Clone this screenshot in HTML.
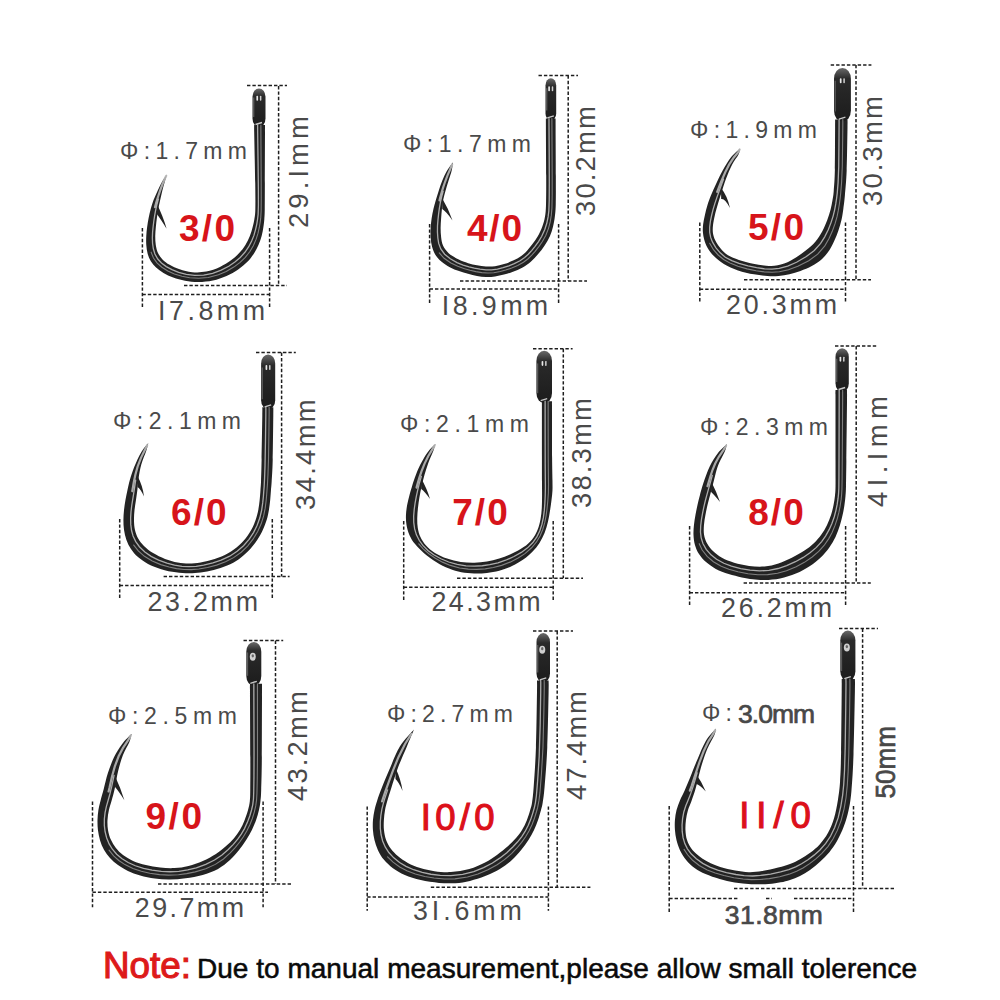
<!DOCTYPE html>
<html><head><meta charset="utf-8"><style>
html,body{margin:0;padding:0;background:#fff;}
body{width:1000px;height:1000px;overflow:hidden;}
svg{display:block;}
text{font-family:"Liberation Sans",sans-serif;}
</style></head><body>
<svg width="1000" height="1000" viewBox="0 0 1000 1000">
<rect width="1000" height="1000" fill="#ffffff"/>
<g stroke="#1e1e1e" stroke-width="1.5" stroke-dasharray="3.4 2"><line x1="247" y1="85.6" x2="287" y2="85.6"/><line x1="278.6" y1="86" x2="278.6" y2="285.6"/><line x1="184" y1="285.6" x2="287" y2="285.6"/><line x1="142.4" y1="228" x2="142.4" y2="309"/><line x1="269.6" y1="228" x2="269.6" y2="309"/><line x1="142.4" y1="294.4" x2="269.6" y2="294.4"/><line x1="538.5" y1="75.4" x2="578" y2="75.4"/><line x1="568.2" y1="75.4" x2="568.2" y2="281"/><line x1="460" y1="281" x2="587" y2="281"/><line x1="429.6" y1="224" x2="429.6" y2="304"/><line x1="558.6" y1="224" x2="558.6" y2="304"/><line x1="429.6" y1="289" x2="558.6" y2="289"/><line x1="830.7" y1="64.9" x2="871.4" y2="64.9"/><line x1="856" y1="64.9" x2="856" y2="279.7"/><line x1="744" y1="279.7" x2="871" y2="279.7"/><line x1="699.8" y1="222.5" x2="699.8" y2="302.8"/><line x1="845.5" y1="222.5" x2="845.5" y2="302.8"/><line x1="699.8" y1="289.2" x2="845.5" y2="289.2"/><line x1="256" y1="352.6" x2="295.8" y2="352.6"/><line x1="281.6" y1="352.6" x2="281.6" y2="576.4"/><line x1="163.6" y1="576.4" x2="289.6" y2="576.4"/><line x1="119.7" y1="519" x2="119.7" y2="599"/><line x1="272.3" y1="519" x2="272.3" y2="599"/><line x1="119.7" y1="585.5" x2="272.3" y2="585.5"/><line x1="533" y1="348.8" x2="572.6" y2="348.8"/><line x1="563.3" y1="348.8" x2="563.3" y2="578.3"/><line x1="457" y1="578.3" x2="583" y2="578.3"/><line x1="403.7" y1="521" x2="403.7" y2="601.6"/><line x1="553.2" y1="521" x2="553.2" y2="601.6"/><line x1="403.7" y1="587.2" x2="553.2" y2="587.2"/><line x1="835" y1="346" x2="878" y2="346"/><line x1="856.2" y1="346" x2="856.2" y2="583"/><line x1="743.6" y1="583" x2="870.8" y2="583"/><line x1="689.6" y1="526" x2="689.6" y2="606.4"/><line x1="845.6" y1="526" x2="845.6" y2="606.4"/><line x1="689.6" y1="592.7" x2="845.6" y2="592.7"/><line x1="243.5" y1="640.5" x2="283.2" y2="640.5"/><line x1="275.5" y1="640.5" x2="275.5" y2="884"/><line x1="158" y1="884" x2="292.4" y2="884"/><line x1="92.5" y1="801.6" x2="92.5" y2="907.2"/><line x1="263.1" y1="801.6" x2="263.1" y2="907.2"/><line x1="92.5" y1="892.3" x2="268" y2="892.3"/><line x1="533" y1="631" x2="573" y2="631"/><line x1="557.2" y1="631" x2="557.2" y2="887.3"/><line x1="430.8" y1="887.3" x2="590.4" y2="887.3"/><line x1="367.2" y1="806.4" x2="367.2" y2="910.8"/><line x1="548.4" y1="806.4" x2="548.4" y2="910.8"/><line x1="367.2" y1="896.9" x2="548.4" y2="896.9"/><line x1="839" y1="628.5" x2="878" y2="628.5"/><line x1="862.6" y1="628.5" x2="862.6" y2="888.6"/><line x1="734" y1="888.6" x2="896" y2="888.6"/><line x1="669.2" y1="806" x2="669.2" y2="912.8"/><line x1="853.5" y1="806" x2="853.5" y2="912.8"/><line x1="669.2" y1="898.4" x2="738" y2="898.4"/><line x1="766" y1="898.4" x2="772" y2="898.4"/><line x1="794" y1="898.4" x2="853.5" y2="898.4"/></g>
<defs><linearGradient id="eyeg" x1="0" y1="0" x2="0" y2="1"><stop offset="0" stop-color="#6a6a6a"/><stop offset="0.2" stop-color="#2a2a2a"/><stop offset="1" stop-color="#1c1c1c"/></linearGradient></defs>
<g fill="#232323">
<path d="M265,125 C265,126.25 265.02,122.89 265,132.5 C264.98,142.11 264.9,169.87 264.86,182.65 C264.82,195.42 264.84,203.07 264.75,209.13 C264.67,215.18 264.57,216.01 264.35,218.99 C264.12,221.97 263.86,224.17 263.41,227 C262.95,229.83 262.46,232.99 261.63,236 C260.81,239.01 259.78,242.07 258.45,245.06 C257.12,248.05 255.54,251.12 253.65,253.95 C251.77,256.79 249.73,259.5 247.15,262.09 C244.57,264.67 241.62,267.13 238.18,269.45 C234.75,271.76 230.74,274.13 226.53,275.97 C222.33,277.81 217.6,279.48 212.94,280.49 C208.27,281.49 203.22,281.95 198.56,281.98 C193.91,282.01 189.25,281.43 185.03,280.67 C180.8,279.91 176.8,278.71 173.21,277.43 C169.62,276.14 166.33,274.59 163.48,272.94 C160.62,271.29 158.19,269.46 156.08,267.51 C153.97,265.57 152.24,263.55 150.84,261.27 C149.43,259 148.41,256.54 147.65,253.85 C146.9,251.16 146.52,248.09 146.29,245.12 C146.06,242.14 146.14,239.02 146.28,236 C146.42,232.98 146.75,230 147.15,227 C147.54,224 148.03,221 148.63,218 C149.22,215 149.9,211.99 150.72,209 C151.54,206.01 152.42,203.09 153.55,200.07 C154.69,197.05 156.04,194.06 157.53,190.88 C159.02,187.7 160.94,183.75 162.5,181 C164.06,178.25 166.17,175.5 166.9,174.4 C166.58,175.5 165.78,178.25 165,181 C164.22,183.75 163.05,187.7 162.24,190.88 C161.44,194.06 160.84,197.05 160.18,200.07 C159.52,203.09 158.83,206.01 158.28,209 C157.73,211.99 157.3,215 156.89,218 C156.49,221 156.13,223.99 155.85,227 C155.58,230.01 155.26,233.06 155.25,236.06 C155.24,239.06 155.33,242.19 155.78,245.01 C156.24,247.84 156.86,250.6 157.98,253.01 C159.1,255.42 160.54,257.5 162.49,259.47 C164.43,261.45 166.8,263.23 169.66,264.87 C172.52,266.52 175.91,268.11 179.66,269.33 C183.4,270.54 187.71,271.78 192.14,272.16 C196.56,272.54 201.56,272.48 206.19,271.6 C210.83,270.73 215.81,268.79 219.95,266.91 C224.09,265.03 227.82,262.61 231.03,260.31 C234.23,258.01 236.79,255.67 239.19,253.11 C241.59,250.55 243.65,247.8 245.43,244.95 C247.21,242.11 248.66,239.05 249.87,236.06 C251.08,233.07 251.92,229.84 252.67,227 C253.43,224.16 253.97,221.97 254.41,218.99 C254.86,216.01 255.19,215.18 255.33,209.13 C255.46,203.07 255.42,195.42 255.23,182.65 C255.04,169.87 254.37,142.11 254.2,132.5 C254.03,122.89 254.2,126.25 254.2,125 Z"/>
<path d="M156.5,203 Q163.4,217 166.6,228.8 Q161,219.5 156.82,214 Z"/>
<rect x="252.5" y="88.4" width="13" height="38.6" rx="6.5" ry="8.45" fill="url(#eyeg)"/>
<path d="M555.6,118.4 C555.6,119.65 555.56,116.33 555.6,125.9 C555.64,135.47 555.82,162.74 555.84,175.83 C555.87,188.91 555.91,197.61 555.75,204.41 C555.58,211.2 555.3,212.91 554.85,216.59 C554.41,220.27 553.9,223.19 553.07,226.48 C552.24,229.77 551.28,233.17 549.88,236.32 C548.47,239.48 546.6,242.47 544.64,245.42 C542.69,248.36 540.47,251.31 538.16,254.01 C535.86,256.72 533.46,259.36 530.79,261.65 C528.12,263.94 525.1,266.07 522.13,267.75 C519.17,269.42 516.02,270.58 513,271.71 C509.98,272.84 507,273.73 504,274.52 C501,275.31 498,276.06 495,276.46 C492,276.87 489,277.03 486,276.95 C483,276.86 480,276.47 477,275.95 C474,275.42 471,274.61 468,273.81 C465,273 462.03,272.2 458.99,271.09 C455.96,269.99 452.75,268.8 449.8,267.18 C446.85,265.56 443.72,263.48 441.31,261.39 C438.9,259.3 436.88,257.06 435.34,254.63 C433.8,252.21 432.85,249.68 432.07,246.84 C431.29,244.01 430.92,240.77 430.68,237.63 C430.44,234.49 430.49,231.19 430.65,228 C430.8,224.81 431.16,221.67 431.62,218.5 C432.09,215.33 432.7,212.17 433.43,209 C434.16,205.83 435.1,202.61 436.01,199.47 C436.92,196.33 437.87,193.26 438.9,190.15 C439.94,187.04 440.87,184.06 442.23,180.8 C443.6,177.54 445.31,173.7 447.1,170.6 C448.89,167.5 452.02,163.6 453,162.2 C452.78,163.6 452.45,167.5 451.7,170.6 C450.95,173.7 449.53,177.54 448.52,180.8 C447.52,184.06 446.54,187.04 445.67,190.15 C444.79,193.26 443.89,196.33 443.27,199.47 C442.64,202.61 442.27,205.83 441.92,209 C441.56,212.17 441.34,215.32 441.12,218.5 C440.91,221.68 440.62,224.9 440.62,228.07 C440.63,231.23 440.74,234.54 441.16,237.5 C441.57,240.46 441.89,243.22 443.13,245.83 C444.38,248.43 446.11,250.88 448.63,253.13 C451.16,255.39 455.03,257.69 458.28,259.36 C461.54,261.02 465.03,262.16 468.15,263.14 C471.27,264.12 474.02,264.67 477,265.23 C479.98,265.8 483,266.36 486,266.53 C489,266.7 491.99,266.64 495,266.23 C498.01,265.82 501.01,265.02 504.03,264.06 C507.06,263.11 510.28,261.88 513.14,260.53 C516,259.18 518.89,257.62 521.21,255.98 C523.54,254.34 525.23,252.62 527.07,250.67 C528.92,248.72 530.48,246.67 532.27,244.27 C534.06,241.88 536.12,239.26 537.8,236.31 C539.48,233.35 541.14,229.83 542.34,226.55 C543.54,223.26 544.39,220.28 545,216.59 C545.62,212.9 545.81,211.2 546.01,204.41 C546.21,197.61 546.22,188.91 546.2,175.83 C546.18,162.74 545.95,135.47 545.9,125.9 C545.85,116.33 545.9,119.65 545.9,118.4 Z"/>
<path d="M442,198 Q448.6,209 452.5,220.4 Q446.2,211.5 442.26,209 Z"/>
<rect x="545.5" y="78.2" width="10.7" height="42.2" rx="5.35" ry="6.96" fill="url(#eyeg)"/>
<path d="M847.5,119.6 C847.5,120.92 847.64,119.02 847.5,127.5 C847.36,135.98 847.1,159.16 846.67,170.49 C846.23,181.81 845.43,189.08 844.88,195.44 C844.32,201.8 843.91,204.58 843.35,208.64 C842.79,212.71 842.32,216.25 841.51,219.83 C840.71,223.41 839.65,226.76 838.51,230.13 C837.36,233.5 836.14,236.75 834.64,240.07 C833.14,243.38 831.6,246.87 829.5,250.01 C827.4,253.16 824.98,256.29 822.03,258.96 C819.08,261.63 815.38,264.03 811.79,266.03 C808.2,268.03 804.22,269.61 800.5,270.96 C796.78,272.32 793.14,273.34 789.5,274.16 C785.86,274.98 782.29,275.58 778.63,275.89 C774.97,276.19 771.65,276.24 767.53,275.98 C763.41,275.72 758.85,275.26 753.92,274.33 C749,273.4 743.02,272.12 738,270.4 C732.99,268.67 727.87,266.35 723.85,263.97 C719.82,261.59 716.55,258.77 713.85,256.11 C711.15,253.44 709.23,250.7 707.64,248 C706.05,245.3 705.1,242.55 704.31,239.93 C703.52,237.32 703.11,234.88 702.91,232.32 C702.71,229.76 702.78,227.43 703.11,224.58 C703.43,221.73 704.13,218.46 704.86,215.2 C705.59,211.94 706.46,208.31 707.49,205 C708.51,201.69 709.6,198.78 711.01,195.33 C712.42,191.88 713.99,188.41 715.93,184.28 C717.87,180.15 720.11,175.11 722.66,170.57 C725.2,166.02 728.31,160.64 731.2,157 C734.09,153.36 738.53,150.08 740,148.7 C739.75,149.67 739.83,151.84 738.5,154.5 C737.17,157.16 734.11,160.68 732.04,164.67 C729.98,168.67 727.94,173.61 726.11,178.48 C724.29,183.34 722.53,189.36 721.09,193.86 C719.65,198.36 718.51,201.94 717.47,205.48 C716.43,209.03 715.6,211.91 714.86,215.13 C714.12,218.36 713.38,221.86 713.06,224.83 C712.73,227.8 712.57,230.39 712.93,232.95 C713.29,235.51 713.97,237.63 715.22,240.18 C716.47,242.73 718.3,245.73 720.42,248.25 C722.55,250.78 724.9,253.39 727.98,255.33 C731.06,257.27 734.72,258.53 738.91,259.92 C743.1,261.31 748.55,262.69 753.11,263.66 C757.66,264.64 762.16,265.48 766.26,265.75 C770.37,266.03 773.62,266.19 777.74,265.31 C781.85,264.43 786.38,262.83 790.93,260.46 C795.49,258.08 800.98,254.18 805.04,251.05 C809.11,247.92 812.51,244.89 815.35,241.67 C818.18,238.46 820.07,235.32 822.05,231.76 C824.02,228.21 825.77,224.02 827.18,220.37 C828.6,216.72 829.66,213.18 830.54,209.87 C831.41,206.56 831.89,203.65 832.43,200.5 C832.96,197.34 833.34,196.06 833.74,190.94 C834.15,185.82 834.65,180.34 834.87,169.77 C835.1,159.19 835.06,135.86 835.1,127.5 C835.14,119.14 835.1,120.92 835.1,119.6 Z"/>
<path d="M721,188 Q727.2,195.5 730,208 Q724.8,198 721.18,199 Z"/>
<rect x="834" y="67.9" width="16.9" height="53.7" rx="8.45" ry="10.98" fill="url(#eyeg)"/>
<path d="M273.3,407.3 C273.3,408.67 273.4,406.79 273.3,415.5 C273.2,424.21 272.99,448.6 272.72,459.53 C272.45,470.46 271.99,475.91 271.69,481.07 C271.4,486.23 271.2,487.34 270.94,490.5 C270.69,493.65 270.52,496.8 270.19,500.02 C269.86,503.24 269.55,506.44 268.95,509.79 C268.36,513.14 267.8,516.45 266.64,520.12 C265.48,523.8 263.86,528.08 262,531.82 C260.14,535.57 257.8,539.34 255.47,542.59 C253.14,545.84 250.81,548.56 248.04,551.32 C245.27,554.09 242.31,556.78 238.83,559.16 C235.34,561.53 231.33,563.77 227.15,565.57 C222.96,567.38 218.15,568.84 213.73,570 C209.31,571.15 204.77,571.96 200.63,572.51 C196.49,573.07 193.02,573.37 188.89,573.34 C184.76,573.32 180.46,573.06 175.84,572.36 C171.22,571.66 165.79,570.55 161.15,569.14 C156.51,567.74 151.88,565.94 148.02,563.93 C144.16,561.92 140.83,559.57 137.99,557.08 C135.14,554.6 132.89,551.87 130.96,549.01 C129.04,546.16 127.59,543.11 126.44,539.95 C125.28,536.79 124.54,533.39 124.04,530.07 C123.53,526.74 123.42,523.34 123.42,520 C123.42,516.66 123.68,513.33 124.02,510 C124.36,506.67 124.89,503.3 125.46,500 C126.03,496.7 126.69,493.58 127.43,490.21 C128.18,486.83 128.79,483.61 129.91,479.73 C131.04,475.85 132.33,471.5 134.2,466.94 C136.06,462.39 138.75,456.39 141.1,452.4 C143.45,448.41 147.1,444.57 148.3,443 C147.95,444.33 147.37,447.42 146.2,451 C145.03,454.58 142.56,459.92 141.29,464.5 C140.01,469.08 139.21,474.19 138.56,478.46 C137.9,482.74 137.77,486.55 137.34,490.15 C136.9,493.75 136.44,496.76 135.97,500.07 C135.5,503.38 134.85,506.66 134.52,510 C134.19,513.34 133.91,516.84 133.98,520.13 C134.05,523.43 134.26,526.75 134.94,529.76 C135.61,532.78 136.52,535.5 138.02,538.2 C139.52,540.9 141.44,543.46 143.96,545.95 C146.47,548.43 149.57,550.95 153.09,553.11 C156.6,555.28 160.95,557.37 165.05,558.94 C169.15,560.5 173.73,561.73 177.7,562.5 C181.67,563.28 185.05,563.6 188.87,563.6 C192.68,563.6 196.31,563.28 200.6,562.5 C204.9,561.73 210.06,560.52 214.63,558.97 C219.2,557.42 223.95,555.47 228.03,553.19 C232.11,550.91 235.78,548.28 239.1,545.28 C242.41,542.28 245.41,538.77 247.91,535.21 C250.42,531.65 252.47,527.79 254.13,523.92 C255.79,520.04 256.95,515.88 257.87,511.93 C258.79,507.99 259.21,503.83 259.64,500.24 C260.07,496.64 260.23,493.56 260.47,490.36 C260.7,487.17 260.85,486.21 261.04,481.07 C261.23,475.93 261.39,470.46 261.61,459.53 C261.82,448.6 262.18,424.21 262.3,415.5 C262.42,406.79 262.3,408.67 262.3,407.3 Z"/>
<path d="M137.5,476 Q142.9,486.2 144,496.5 Q140.5,488.7 137.52,487 Z"/>
<rect x="261.1" y="354.4" width="14.1" height="54.9" rx="7.05" ry="9.16" fill="url(#eyeg)"/>
<path d="M552,401.2 C552,403 551.98,402.64 552,412 C552.02,421.36 552.01,445.93 552.09,457.37 C552.17,468.82 552.41,475.13 552.47,480.68 C552.53,486.23 552.6,487.46 552.45,490.66 C552.29,493.86 551.94,496.59 551.54,499.87 C551.14,503.14 550.67,506.64 550.07,510.3 C549.48,513.96 548.88,518.03 547.96,521.82 C547.04,525.61 545.97,529.53 544.56,533.05 C543.14,536.57 541.46,539.85 539.48,542.94 C537.49,546.03 535.28,548.86 532.64,551.59 C530,554.32 527.07,556.92 523.63,559.34 C520.19,561.75 516.06,564.16 512,566.06 C507.93,567.96 503.43,569.59 499.24,570.75 C495.06,571.9 491.07,572.52 486.89,572.98 C482.71,573.45 478.41,573.63 474.16,573.52 C469.91,573.41 465.57,573.15 461.38,572.32 C457.2,571.5 453.26,570.32 449.05,568.58 C444.83,566.85 440.28,564.48 436.11,561.91 C431.94,559.34 427.53,556.13 424.02,553.16 C420.51,550.19 417.48,547.11 415.05,544.07 C412.61,541.02 410.82,538.05 409.4,534.88 C407.97,531.72 407.09,528.38 406.52,525.07 C405.94,521.75 405.85,518.37 405.96,515 C406.08,511.63 406.62,508.16 407.2,504.87 C407.78,501.58 408.69,498.21 409.45,495.27 C410.21,492.32 410.88,490.14 411.77,487.21 C412.66,484.27 413.38,481.38 414.8,477.64 C416.21,473.89 418.13,468.94 420.25,464.74 C422.36,460.53 424.96,455.91 427.5,452.4 C430.04,448.89 434.17,445.15 435.5,443.7 C435.13,444.92 434.49,447.84 433.3,451 C432.11,454.16 429.86,458.65 428.39,462.65 C426.91,466.65 425.59,470.99 424.45,475.01 C423.31,479.02 422.37,483.01 421.53,486.73 C420.7,490.45 420.03,493.8 419.44,497.32 C418.85,500.83 418.35,504.35 417.98,507.82 C417.62,511.29 417.27,514.78 417.24,518.13 C417.21,521.48 417.26,524.76 417.79,527.92 C418.33,531.07 419.08,534.13 420.45,537.07 C421.82,540.01 423.6,542.9 426.03,545.55 C428.45,548.2 431.48,550.79 434.99,552.96 C438.5,555.14 442.78,557.11 447.08,558.6 C451.39,560.08 456.29,561.2 460.82,561.88 C465.36,562.56 469.98,562.72 474.32,562.65 C478.67,562.59 482.74,562.19 486.89,561.5 C491.04,560.8 495.05,559.83 499.24,558.5 C503.43,557.17 507.97,555.42 512.03,553.52 C516.1,551.63 520.29,549.46 523.64,547.11 C526.98,544.77 529.78,542.29 532.09,539.43 C534.4,536.57 536.09,533.32 537.5,529.96 C538.91,526.59 539.82,522.91 540.54,519.23 C541.26,515.56 541.54,511.9 541.8,507.9 C542.05,503.9 542.02,499.64 542.06,495.23 C542.09,490.81 542.02,487.76 541.99,481.4 C541.97,475.04 541.93,468.61 541.92,457.04 C541.9,445.47 541.9,421.31 541.9,412 C541.9,402.69 541.9,403 541.9,401.2 Z"/>
<path d="M421,478 Q427.2,489.1 430,499 Q424.8,491.6 421.18,489 Z"/>
<rect x="536.4" y="350.8" width="15.6" height="52.4" rx="7.8" ry="10.14" fill="url(#eyeg)"/>
<path d="M847,390 C847,392.08 847.11,390.72 847,402.5 C846.89,414.28 846.53,446.65 846.36,460.67 C846.19,474.69 846.12,480.81 845.98,486.64 C845.84,492.47 845.78,492.6 845.52,495.66 C845.27,498.72 844.93,501.8 844.45,505 C843.97,508.2 843.39,511.48 842.64,514.87 C841.89,518.25 841.12,521.63 839.93,525.3 C838.74,528.97 837.29,533.13 835.5,536.88 C833.7,540.64 831.58,544.44 829.15,547.83 C826.73,551.22 824.14,554.21 820.95,557.23 C817.75,560.26 814.15,563.27 809.98,565.99 C805.8,568.71 800.87,571.47 795.9,573.54 C790.92,575.61 785.28,577.35 780.12,578.42 C774.95,579.49 769.47,579.83 764.9,579.97 C760.34,580.11 756.58,579.67 752.74,579.24 C748.89,578.81 745.85,578.26 741.83,577.4 C737.81,576.54 732.95,575.5 728.62,574.09 C724.29,572.68 719.6,570.93 715.84,568.93 C712.07,566.93 708.83,564.57 706.02,562.08 C703.21,559.6 700.83,556.87 698.99,554.01 C697.14,551.16 695.88,548.11 694.96,544.95 C694.05,541.79 693.67,538.39 693.5,535.07 C693.33,531.74 693.63,528.34 693.95,525 C694.28,521.66 694.87,518.33 695.46,515 C696.05,511.67 696.77,508.22 697.49,505 C698.21,501.78 698.8,499.28 699.77,495.66 C700.75,492.05 701.66,488.14 703.32,483.3 C704.98,478.45 707.27,471.65 709.71,466.6 C712.16,461.55 715.12,456.77 718,453 C720.88,449.23 725.5,445.5 727,444 C726.63,445.25 726.1,448.37 724.8,451.5 C723.5,454.63 720.7,459.21 719.19,462.79 C717.68,466.37 716.8,469.37 715.76,472.96 C714.73,476.55 713.94,480.64 712.98,484.35 C712.02,488.06 710.94,491.76 710.03,495.2 C709.11,498.64 708.26,501.7 707.49,505 C706.73,508.3 706.02,511.64 705.43,515 C704.83,518.36 704.17,521.84 703.94,525.13 C703.72,528.43 703.55,531.75 704.05,534.76 C704.56,537.78 705.47,540.48 706.96,543.2 C708.44,545.91 710.46,548.61 712.96,551.05 C715.46,553.49 718.43,555.89 721.96,557.84 C725.48,559.79 729.56,561.4 734.09,562.75 C738.61,564.1 744.05,565.32 749.12,565.95 C754.19,566.57 759.63,566.91 764.51,566.49 C769.4,566.06 773.9,564.87 778.45,563.41 C783,561.95 787.56,559.83 791.83,557.74 C796.11,555.65 800.43,553.27 804.1,550.86 C807.77,548.44 810.99,545.91 813.85,543.23 C816.7,540.55 819.03,537.78 821.21,534.76 C823.39,531.75 825.3,528.43 826.93,525.13 C828.57,521.84 829.92,518.36 831.02,515 C832.13,511.64 832.89,508.22 833.55,505 C834.21,501.78 834.66,498.72 834.98,495.66 C835.31,492.6 835.42,492.47 835.51,486.64 C835.6,480.81 835.53,474.69 835.53,460.67 C835.53,446.65 835.51,414.28 835.5,402.5 C835.49,390.72 835.5,392.08 835.5,390 Z"/>
<path d="M711,481 Q716.8,492.5 720,502 Q714.4,495 711.1,492 Z"/>
<rect x="835.5" y="348.3" width="13.3" height="43.7" rx="6.65" ry="8.64" fill="url(#eyeg)"/>
<path d="M262,683.8 C262,686.08 262.03,685.22 262,697.5 C261.97,709.78 261.98,742.12 261.85,757.51 C261.71,772.89 261.42,782.5 261.19,789.8 C260.96,797.11 260.82,797.96 260.45,801.33 C260.08,804.69 259.68,806.89 258.96,810 C258.23,813.11 257.29,816.67 256.11,820 C254.94,823.33 253.56,826.67 251.9,830 C250.24,833.33 248.29,836.66 246.15,840 C244,843.34 241.72,846.72 239.03,850.07 C236.34,853.41 233.48,856.94 229.98,860.08 C226.48,863.22 222.6,866.44 218.04,868.91 C213.49,871.39 208.06,873.4 202.65,874.95 C197.23,876.49 191.03,877.44 185.55,878.19 C180.08,878.94 174.93,879.38 169.8,879.44 C164.68,879.5 159.73,879.18 154.8,878.53 C149.87,877.88 144.7,876.81 140.22,875.56 C135.74,874.3 131.61,872.74 127.9,870.99 C124.2,869.24 120.96,867.2 117.97,865.05 C114.98,862.9 112.3,860.62 109.97,858.08 C107.64,855.55 105.63,852.82 103.97,849.83 C102.31,846.84 101.01,843.44 100,840.13 C99,836.83 98.36,833.36 97.94,830 C97.53,826.64 97.43,823.33 97.51,820 C97.59,816.67 97.9,813.26 98.42,810 C98.93,806.74 99.72,803.95 100.6,800.46 C101.49,796.98 102.52,793.63 103.73,789.11 C104.93,784.6 106.1,778.67 107.82,773.37 C109.53,768.07 111.64,762.17 114,757.31 C116.37,752.45 119.07,748.12 122,744.2 C124.93,740.28 130,735.53 131.6,733.8 C131.2,735.27 130.66,739.03 129.2,742.6 C127.74,746.17 124.71,750.46 122.87,755.2 C121.03,759.95 119.49,765.52 118.14,771.05 C116.79,776.59 115.85,783.48 114.76,788.42 C113.66,793.35 112.56,797.08 111.58,800.68 C110.61,804.27 109.6,806.78 108.92,810 C108.24,813.22 107.65,816.64 107.5,820 C107.35,823.36 107.46,826.83 108.03,830.13 C108.6,833.44 109.62,836.84 110.94,839.83 C112.25,842.82 113.89,845.54 115.9,848.08 C117.92,850.62 120.16,852.94 123.02,855.08 C125.89,857.22 129.28,859.26 133.09,860.93 C136.89,862.6 141.34,863.99 145.85,865.09 C150.37,866.19 155.4,867.04 160.18,867.53 C164.97,868.02 169.85,868.3 174.57,868.04 C179.29,867.77 183.79,867.11 188.5,865.95 C193.21,864.78 198.26,863.02 202.83,861.03 C207.4,859.04 212.03,856.51 215.91,854.01 C219.79,851.52 223.08,848.71 226.1,846.07 C229.11,843.42 231.68,840.85 234,838.13 C236.32,835.42 238.26,832.76 240.02,829.76 C241.79,826.76 243.25,823.43 244.58,820.13 C245.91,816.84 247.15,813.13 248.02,810 C248.9,806.87 249.46,804.69 249.83,801.33 C250.2,797.96 250.17,797.11 250.26,789.8 C250.34,782.5 250.39,772.89 250.35,757.51 C250.31,742.12 250.06,709.78 250,697.5 C249.94,685.22 250,686.08 250,683.8 Z"/>
<path d="M115,776 Q120.6,788 124.4,800.2 Q118.2,790.5 115.06,787 Z"/>
<rect x="246.3" y="642" width="15" height="43.8" rx="7.5" ry="9.75" fill="url(#eyeg)"/>
<path d="M548.6,680.4 C548.6,682.43 548.82,681.41 548.6,692.6 C548.38,703.79 547.93,731.87 547.26,747.57 C546.59,763.26 545.34,777.67 544.59,786.78 C543.84,795.89 543.36,798.34 542.76,802.21 C542.17,806.08 541.8,807.04 541.01,810 C540.23,812.96 539.21,816.67 538.05,820 C536.88,823.33 535.62,826.67 534.02,830 C532.43,833.33 530.61,836.66 528.46,840 C526.32,843.34 523.91,846.73 521.15,850.07 C518.4,853.4 515.5,856.87 511.95,860.01 C508.39,863.16 504.3,866.28 499.85,868.96 C495.39,871.64 490.17,874.1 485.2,876.1 C480.22,878.09 474.98,879.73 470,880.91 C465.02,882.09 460.48,882.83 455.33,883.16 C450.18,883.5 444.85,883.42 439.08,882.91 C433.31,882.4 426.43,881.42 420.72,880.1 C415.01,878.77 409.45,876.96 404.82,874.96 C400.19,872.97 396.43,870.67 392.95,868.15 C389.48,865.63 386.49,862.83 383.99,859.83 C381.49,856.83 379.55,853.44 377.96,850.13 C376.38,846.83 375.31,843.36 374.47,840 C373.63,836.64 373.19,833.33 372.94,830 C372.7,826.67 372.71,823.33 372.98,820 C373.24,816.67 373.85,813.21 374.54,810 C375.24,806.79 375.98,804.26 377.13,800.73 C378.27,797.2 379.38,794.02 381.42,788.82 C383.47,783.62 386.31,776.62 389.4,769.53 C392.5,762.44 395.9,752.95 400,746.3 C404.1,739.65 411.67,732.38 414,729.6 C412.83,732.38 409.63,740.05 407,746.3 C404.37,752.55 400.83,760.14 398.21,767.08 C395.59,774.02 393.11,782.3 391.29,787.95 C389.46,793.59 388.31,797.28 387.27,800.96 C386.23,804.64 385.61,806.83 385.04,810 C384.48,813.17 384.06,816.66 383.89,820 C383.71,823.34 383.6,826.73 383.97,830.07 C384.34,833.4 384.94,836.89 386.09,840.01 C387.23,843.14 388.84,846.12 390.84,848.83 C392.84,851.54 395.25,853.92 398.09,856.26 C400.92,858.61 404.15,860.94 407.84,862.9 C411.53,864.86 415.78,866.66 420.22,868.03 C424.66,869.4 429.35,870.46 434.47,871.13 C439.59,871.8 445.12,872.39 450.92,872.05 C456.72,871.72 463.59,870.7 469.28,869.11 C474.97,867.52 480.38,864.93 485.05,862.52 C489.71,860.11 493.48,857.38 497.28,854.67 C501.08,851.95 504.72,849.02 507.85,846.25 C510.97,843.48 513.65,840.81 516.03,838.07 C518.41,835.32 520.34,832.75 522.15,829.76 C523.95,826.78 525.52,823.43 526.86,820.13 C528.21,816.84 529.33,812.99 530.21,810 C531.08,807.01 531.52,806.08 532.1,802.21 C532.68,798.34 533.04,795.89 533.68,786.78 C534.33,777.67 535.4,763.26 535.95,747.57 C536.5,731.87 536.82,703.79 537,692.6 C537.18,681.41 537,682.43 537,680.4 Z"/>
<path d="M395.5,768 Q400.8,779 402.6,790.9 Q398.4,781.5 395.5,779 Z"/>
<rect x="536.5" y="633.1" width="13.5" height="49.3" rx="6.75" ry="8.78" fill="url(#eyeg)"/>
<path d="M854.9,679.1 C854.9,681.17 855.13,678.96 854.9,691.5 C854.67,704.04 854.1,737.75 853.52,754.37 C852.93,770.98 852.23,781.88 851.41,791.2 C850.58,800.51 849.84,804.39 848.58,810.24 C847.32,816.1 845.81,821.14 843.86,826.32 C841.91,831.5 839.32,837.03 836.9,841.35 C834.48,845.67 832.13,848.86 829.36,852.23 C826.58,855.6 823.49,858.6 820.26,861.58 C817.04,864.56 813.38,867.69 810,870.1 C806.62,872.5 803.33,874.4 800,876.03 C796.67,877.66 793.22,878.83 790,879.88 C786.78,880.93 784.25,881.64 780.66,882.34 C777.08,883.04 773.4,883.75 768.49,884.05 C763.59,884.36 756.89,884.43 751.25,884.16 C745.61,883.9 739.93,883.3 734.67,882.44 C729.41,881.59 724.53,880.41 719.67,879.02 C714.81,877.63 709.7,875.96 705.52,874.11 C701.34,872.27 697.82,870.33 694.59,867.96 C691.35,865.59 688.56,862.87 686.12,859.9 C683.68,856.93 681.57,853.45 679.96,850.13 C678.35,846.82 677.31,843.36 676.47,840 C675.63,836.64 675.2,833.33 674.94,830 C674.69,826.67 674.68,823.33 674.94,820 C675.21,816.67 675.69,813.31 676.54,810 C677.39,806.69 678.67,803.44 680.04,800.13 C681.42,796.83 683.09,793.94 684.77,790.16 C686.45,786.39 688.06,782.47 690.12,777.49 C692.17,772.51 694.46,766.36 697.08,760.28 C699.69,754.2 702.65,746.3 705.8,741 C708.95,735.7 714.3,730.58 716,728.5 C715.72,729.63 715.74,731.91 714.3,735.3 C712.86,738.69 709.59,743.47 707.36,748.83 C705.13,754.19 702.86,760.94 700.93,767.44 C699.01,773.95 697.39,782.29 695.82,787.87 C694.25,793.45 692.81,797.25 691.5,800.93 C690.2,804.62 688.94,806.82 688.01,810 C687.08,813.18 686.37,816.64 685.94,820 C685.52,823.36 685.3,826.83 685.47,830.13 C685.64,833.44 686.04,836.85 686.96,839.83 C687.88,842.81 689.14,845.45 690.99,848.01 C692.83,850.58 695.21,852.89 698.02,855.2 C700.83,857.51 704.14,859.88 707.84,861.86 C711.54,863.85 715.67,865.65 720.22,867.09 C724.77,868.53 730.38,869.65 735.13,870.5 C739.89,871.34 744.24,872.07 748.75,872.16 C753.26,872.26 757.27,871.83 762.17,871.06 C767.07,870.3 773.41,868.8 778.16,867.57 C782.91,866.35 787.02,865.13 790.66,863.73 C794.3,862.34 796.75,861.03 800,859.21 C803.25,857.4 806.82,855.34 810.13,852.85 C813.45,850.35 816.91,847.56 819.9,844.23 C822.88,840.9 825.67,837.2 828.03,832.86 C830.39,828.52 832.38,823.72 834.03,818.18 C835.68,812.64 836.95,805.75 837.96,799.63 C838.96,793.51 839.54,789.38 840.06,781.46 C840.58,773.53 840.83,767.05 841.1,752.05 C841.37,737.06 841.6,703.66 841.7,691.5 C841.8,679.34 841.7,681.17 841.7,679.1 Z"/>
<path d="M695.5,773 Q701.7,781.9 705.8,791.4 Q699.3,784.4 695.68,784 Z"/>
<rect x="840.3" y="630.5" width="15.1" height="50.6" rx="7.55" ry="9.82" fill="url(#eyeg)"/>
</g>
<rect x="256.4" y="95.72" width="1.7" height="5" rx="0.8" fill="#e8e8e8"/><rect x="259.9" y="95.72" width="1.5" height="5" rx="0.7" fill="#d0d0d0"/><path d="M253.7,97.55 L253.7,117" stroke="#888" stroke-width="1.3" opacity="0.55"/><path d="M255.5,124.5 L262,122.5" stroke="#c8c8c8" stroke-width="1.4"/>
<rect x="548.25" y="86.24" width="1.7" height="5" rx="0.8" fill="#e8e8e8"/><rect x="551.75" y="86.24" width="1.5" height="5" rx="0.7" fill="#d0d0d0"/><path d="M546.7,88.25 L546.7,110.4" stroke="#888" stroke-width="1.3" opacity="0.55"/><path d="M547.35,117.9 L553.85,115.9" stroke="#c8c8c8" stroke-width="1.4"/>
<rect x="839.85" y="78.24" width="1.7" height="5" rx="0.8" fill="#e8e8e8"/><rect x="843.35" y="78.24" width="1.5" height="5" rx="0.7" fill="#d0d0d0"/><path d="M835.2,80.83 L835.2,111.6" stroke="#888" stroke-width="1.3" opacity="0.55"/><path d="M838.95,119.1 L845.45,117.1" stroke="#c8c8c8" stroke-width="1.4"/>
<rect x="265.55" y="364.98" width="1.7" height="5" rx="0.8" fill="#e8e8e8"/><rect x="269.05" y="364.98" width="1.5" height="5" rx="0.7" fill="#d0d0d0"/><path d="M262.3,367.62 L262.3,399.3" stroke="#888" stroke-width="1.3" opacity="0.55"/><path d="M264.65,406.8 L271.15,404.8" stroke="#c8c8c8" stroke-width="1.4"/>
<rect x="541.6" y="360.88" width="1.7" height="5" rx="0.8" fill="#e8e8e8"/><rect x="545.1" y="360.88" width="1.5" height="5" rx="0.7" fill="#d0d0d0"/><path d="M537.6,363.4 L537.6,393.2" stroke="#888" stroke-width="1.3" opacity="0.55"/><path d="M540.7,400.7 L547.2,398.7" stroke="#c8c8c8" stroke-width="1.4"/>
<rect x="839.55" y="356.64" width="1.7" height="5" rx="0.8" fill="#e8e8e8"/><rect x="843.05" y="356.64" width="1.5" height="5" rx="0.7" fill="#d0d0d0"/><path d="M836.7,358.73 L836.7,382" stroke="#888" stroke-width="1.3" opacity="0.55"/><path d="M838.65,389.5 L845.15,387.5" stroke="#c8c8c8" stroke-width="1.4"/>
<ellipse cx="252.8" cy="656.63" rx="3" ry="4" fill="#d0d0d0"/><ellipse cx="252.8" cy="655.79" rx="1.2" ry="1.6" fill="#666"/><path d="M247.5,652.45 L247.5,675.8" stroke="#888" stroke-width="1.3" opacity="0.55"/><path d="M250.3,683.3 L256.8,681.3" stroke="#c8c8c8" stroke-width="1.4"/>
<ellipse cx="542.25" cy="649.65" rx="3" ry="4" fill="#d0d0d0"/><ellipse cx="542.25" cy="648.71" rx="1.2" ry="1.6" fill="#666"/><path d="M537.7,644.92 L537.7,672.4" stroke="#888" stroke-width="1.3" opacity="0.55"/><path d="M539.75,679.9 L546.25,677.9" stroke="#c8c8c8" stroke-width="1.4"/>
<ellipse cx="846.85" cy="647.51" rx="3" ry="4" fill="#d0d0d0"/><ellipse cx="846.85" cy="646.54" rx="1.2" ry="1.6" fill="#666"/><path d="M841.5,642.65 L841.5,671.1" stroke="#888" stroke-width="1.3" opacity="0.55"/><path d="M844.35,678.6 L850.85,676.6" stroke="#c8c8c8" stroke-width="1.4"/>
<g fill="none" stroke-linecap="round">
<path d="M158.4,199.2 L156.85,204.86 L155.65,210.22 L154.66,215.62 L153.82,221.02 L153.11,226.71 L152.58,232.14 L152.36,237.86 L152.55,243.3 L153.34,248.75 L154.92,254.03 L157.76,259.03 L161.47,263.02 L166.28,266.61 L171.97,269.67 L178.66,272.28 L186.31,274.33 L194.7,275.38 L203.67,275.14 L212.64,273.33 L221.23,270.16 L228.76,266.22 L234.9,262.07 L240.23,257.5 L244.91,252.3 L248.74,246.72 L251.67,241.1 L253.93,235.38 L255.6,229.32 L256.74,224.31 L257.57,219.27 L258.13,214.36 L258.4,205.27 L258.37,189.72 L258.06,162.24 L257.66,132.5 L257.62,125.36 L257.66,125" stroke="#c4c4c4" stroke-width="1.3" opacity="0.85"/>
<path d="M151.11,252.16 L153.47,258.06 L157.18,263.13 L161.87,267.28 L167.82,270.96 L174.42,273.9 L182,276.28 L189.65,277.77 L198.76,278.32 L208.25,277.47 L218.43,274.76 L226.18,271.49 L233.77,267.1 L240.11,262.43 L245.31,257.41 L249.89,251.5 L253.29,245.7 L256.15,239.18 L258.04,233.15 L259.33,227.22 L260.22,221.98 L260.79,217.13 L261.14,210.79 L261.24,198.4 L261.18,178.4 L260.97,145.15 L260.87,126.88 L260.89,125.25 L260.9,125" stroke="#a8a8a8" stroke-width="1.1" opacity="0.7"/>
<path d="M166.21,175.79 L164.36,179.77 L162.07,185.26 L160,190.87 L158.29,195.98 L156.57,201.41 L154.96,207.21" stroke="#b8b8b8" stroke-width="2.2" opacity="0.9"/>
<path d="M443.15,191.42 L441.58,196.99 L440.33,202.66 L439.35,208.39 L438.58,214.09 L437.95,220.1 L437.51,225.83 L437.44,231.89 L437.83,237.84 L438.7,243.42 L440.79,248.99 L444.66,254.22 L450.28,258.77 L457.03,262.55 L463.16,265.02 L469.06,266.84 L474.36,268.12 L480.02,269.2 L486,269.86 L491.69,269.83 L497.38,269.11 L503.08,267.71 L508.83,265.86 L514.27,263.66 L520.02,260.71 L524.65,257.55 L528.27,254.28 L531.84,250.37 L535.03,246.32 L538.52,241.53 L541.74,236.25 L544.81,229.47 L546.79,223.28 L548.11,216.94 L548.84,210.92 L549.22,200.08 L549.3,183.17 L549.19,155.36 L549,125.9 L548.99,118.89 L549,118.54" stroke="#c4c4c4" stroke-width="1.3" opacity="0.85"/>
<path d="M439.26,252.89 L444.09,258.25 L450.92,263.04 L457.76,266.35 L464.54,268.75 L469.98,270.28 L475.88,271.66 L481.84,272.64 L487.8,273.03 L493.76,272.72 L500.28,271.55 L505.68,270.09 L511.7,268.05 L517.69,265.54 L523.44,262.27 L528.12,258.73 L531.75,255.21 L535.14,251.35 L538.84,246.61 L542.36,241.51 L545.77,235.47 L548.5,228.35 L550.21,221.92 L551.31,215.17 L551.93,207.93 L552.18,195.18 L552.18,175.83 L552.02,143.84 L551.9,121.56 L551.9,118.79 L551.91,118.66" stroke="#a8a8a8" stroke-width="1.1" opacity="0.7"/>
<path d="M452.15,164.46 L450,169.64 L447.43,175.64 L445.08,181.76 L443.17,187.38 L441.46,192.94 L439.92,198.53 L439.47,200.41" stroke="#b8b8b8" stroke-width="2.2" opacity="0.9"/>
<path d="M723.49,179.21 L720.19,188.2 L717.17,196.6 L714.9,203.38 L713.03,209.67 L711.58,215.5 L710.37,221.4 L709.64,227.29 L709.68,232.47 L710.65,237.4 L712.54,242.17 L715.95,247.86 L720.21,252.83 L725.3,257.21 L731.78,260.69 L739.02,263.38 L747.92,265.88 L756.61,267.73 L764.6,268.86 L772.05,269.22 L779.22,268.47 L787.7,266.15 L796.55,262.25 L806.35,256.5 L814.3,250.41 L820.63,243.38 L824.72,236.85 L828.14,229.93 L831.03,222.62 L833.19,215.85 L834.7,209.57 L835.75,203.9 L836.61,198.28 L837.28,192.73 L838.1,182.38 L838.73,166.41 L839,138.34 L839.1,122.34 L839.07,119.91 L839.07,119.6" stroke="#c4c4c4" stroke-width="1.3" opacity="0.85"/>
<path d="M709.66,243.31 L713.47,249.71 L718.15,254.98 L723.63,259.54 L730.61,263.37 L737.91,266.24 L747.07,268.87 L756.07,270.76 L764.21,271.87 L772.1,272.28 L779.44,271.7 L788.49,269.69 L797.8,266.27 L808.75,260.7 L817.71,254.19 L824.82,245.89 L828.9,238.71 L832.25,231.35 L835.05,223.7 L837.06,216.66 L838.37,210.21 L839.31,204.47 L840.12,198.54 L840.71,193.07 L841.59,182.36 L842.29,166.56 L842.68,138.36 L842.83,122.32 L842.79,119.91 L842.79,119.6" stroke="#a8a8a8" stroke-width="1.1" opacity="0.7"/>
<path d="M739.65,149.52 L737.98,152.44 L733.83,157.5 L729.11,164.67 L725.23,172.34 L721.13,181.73 L717.65,190.71 L717.18,191.96" stroke="#b8b8b8" stroke-width="2.2" opacity="0.9"/>
<path d="M135.67,480.2 L134.6,487.39 L133.66,493.59 L132.72,499.42 L131.76,505.36 L131,511.69 L130.61,518.09 L130.76,524.39 L131.55,530.5 L133.06,535.92 L135.74,541.63 L139.41,546.72 L144.85,552 L151.1,556.38 L158.66,560.18 L166.9,563.19 L174.53,565.16 L181.92,566.35 L188.87,566.71 L196.14,566.33 L203.65,565.17 L212.87,562.99 L221.14,560.18 L229.7,556.19 L237.15,551.34 L243.55,545.69 L249.05,539.32 L253.54,532.57 L257.16,525.33 L259.84,517.82 L261.64,510.27 L262.71,502.91 L263.38,496.45 L263.8,490.71 L264.18,485.93 L264.59,477.91 L265.02,465.47 L265.46,441.82 L265.82,415.5 L265.85,408.13 L265.82,407.3" stroke="#c4c4c4" stroke-width="1.3" opacity="0.85"/>
<path d="M133.73,545.04 L138.3,550.93 L144.46,556.33 L152.27,561.04 L160.83,564.62 L169.12,567.08 L176.55,568.62 L184.07,569.48 L191.24,569.61 L198.91,568.96 L207.52,567.48 L216.59,565.11 L225.52,561.84 L233.61,557.65 L241.18,552.21 L247.57,546.03 L253.03,539.17 L257.83,531.27 L261.25,523.54 L263.64,515.93 L265.19,508.17 L266.12,500.7 L266.65,494.84 L267.06,489.25 L267.45,484.38 L267.98,474.41 L268.5,459.53 L268.93,431.61 L269.16,411.44 L269.13,407.71 L269.12,407.3" stroke="#a8a8a8" stroke-width="1.1" opacity="0.7"/>
<path d="M147.2,445.16 L144.83,449.95 L141.08,457.62 L137.68,466.42 L135.37,474.7 L133.78,482.13 L132.6,489.17 L132.25,491.22" stroke="#b8b8b8" stroke-width="2.2" opacity="0.9"/>
<path d="M421.36,476.32 L419.27,483.61 L417.69,490.1 L416.32,496.39 L415.14,502.76 L414.23,509.25 L413.66,516.08 L413.74,522.42 L414.64,528.91 L416.42,534.83 L419.32,540.51 L422.88,545.44 L427.9,550.4 L433.73,554.76 L440.91,558.78 L448.69,562.01 L457.16,564.42 L465.93,565.81 L474.27,566.13 L482.3,565.75 L489.77,564.72 L497.95,562.82 L505.62,560.23 L513.96,556.52 L521.31,552.41 L527.58,547.84 L532.88,542.56 L536.87,536.89 L539.76,530.95 L541.97,524.15 L543.41,517.45 L544.28,510.63 L544.88,503.28 L545.23,495.52 L545.4,487.87 L545.32,477.43 L545.2,463.49 L545.15,438.96 L545.13,412 L545.13,403.09 L545.13,401.2" stroke="#c4c4c4" stroke-width="1.3" opacity="0.85"/>
<path d="M418.76,543.87 L422.91,548.59 L428.77,553.71 L434.95,558 L442.49,562.13 L450.35,565.4 L459.63,568.02 L468.22,569.17 L476.78,569.38 L485.17,568.84 L493.36,567.58 L501.62,565.37 L510.09,562.13 L518.13,558.02 L525.25,553.37 L531.6,547.76 L536.3,542.17 L540.04,535.93 L542.67,529.76 L544.79,522.38 L546.13,515.55 L547.04,508.71 L547.77,501.32 L548.38,493.16 L548.53,484.75 L548.39,473.39 L548.23,457.25 L548.17,428.65 L548.16,407.46 L548.16,402.12 L548.16,401.2" stroke="#a8a8a8" stroke-width="1.1" opacity="0.7"/>
<path d="M434.65,445.36 L432.17,449.62 L428.19,456.18 L424.55,463.63 L421.49,471.29 L419.2,478.14 L417.04,485.64 L416.54,487.62" stroke="#b8b8b8" stroke-width="2.2" opacity="0.9"/>
<path d="M712.33,475.33 L710.42,482.25 L708.45,489.09 L706.75,495.33 L705.18,501.28 L703.77,507.34 L702.54,513.35 L701.47,519.42 L700.7,525.76 L700.47,532 L701.13,537.62 L702.92,543.51 L706.19,549.4 L710.99,554.83 L716.57,559.3 L723.81,563.25 L731.42,566.1 L740.74,568.54 L749.93,570.13 L759.53,570.88 L768.95,570.35 L778.05,568.51 L786.66,565.62 L795.43,561.71 L803.22,557.43 L810.36,552.55 L816.4,547.38 L821.65,541.58 L825.68,535.9 L829.26,529.42 L831.92,523.5 L834.21,516.95 L835.91,510.56 L837.12,504.65 L838.02,498.72 L838.56,493.67 L838.83,488.23 L838.95,476.73 L839.02,455.95 L839.14,417.61 L839.19,395 L839.18,390.54 L839.18,390" stroke="#c4c4c4" stroke-width="1.3" opacity="0.85"/>
<path d="M699.21,543.66 L702.14,550.06 L707.16,556.46 L713.39,561.74 L721.22,566.22 L728.87,569.19 L737.9,571.71 L748.02,573.72 L757.78,574.76 L767.61,574.65 L777.48,573.22 L786.49,570.67 L796.2,566.72 L804.36,562.34 L812.19,557.04 L818.73,551.39 L824.1,545.46 L828.64,538.87 L832.09,532.49 L835.12,525.17 L837.22,518.86 L838.94,512.13 L840.12,506.2 L841.06,499.92 L841.63,494.55 L841.93,489.52 L842.11,479.02 L842.25,460.67 L842.5,424.02 L842.65,396.88 L842.64,390.97 L842.63,390" stroke="#a8a8a8" stroke-width="1.1" opacity="0.7"/>
<path d="M726.1,445.71 L723.39,450.07 L718.85,456.77 L715.2,463.51 L712.68,469.52 L710.42,476.24 L708.41,483.07 L707.47,486.2" stroke="#b8b8b8" stroke-width="2.2" opacity="0.9"/>
<path d="M114.07,775.37 L111.8,786.19 L109.89,793.97 L107.96,800.99 L106.41,806.33 L105.07,812.63 L104.35,818.99 L104.33,825.37 L105.07,831.74 L106.69,838.03 L109.12,843.92 L112.37,849.23 L116.67,854.24 L121.72,858.5 L128.15,862.54 L135.35,865.76 L143.57,868.33 L152.09,870.15 L161.34,871.34 L170.13,871.75 L178.88,871.29 L187.67,869.94 L196.32,867.76 L205.77,864.4 L214.53,860.06 L222,854.98 L228.26,849.52 L233.35,844.35 L237.72,839.14 L241.27,834.18 L244.52,828.59 L247.38,822.36 L249.78,815.96 L251.55,809.99 L252.77,804.62 L253.46,798.99 L253.72,791.81 L253.94,776.68 L254.03,752.42 L253.9,712.97 L253.83,689.55 L253.84,684.41 L253.84,683.8" stroke="#c4c4c4" stroke-width="1.3" opacity="0.85"/>
<path d="M109.05,850.2 L113.63,855.87 L118.8,860.45 L124.97,864.6 L132.91,868.48 L141.34,871.31 L149.83,873.28 L159.6,874.66 L168.49,875.14 L178.46,874.72 L186.64,873.64 L195.26,871.88 L205.73,868.72 L215.35,864.38 L223.47,858.95 L230.23,852.94 L235.41,847.35 L239.88,841.79 L243.37,836.8 L246.8,831.07 L249.96,824.52 L252.32,818.5 L254.36,811.8 L255.73,805.95 L256.55,800.06 L256.94,793.48 L257.25,779.71 L257.48,757.51 L257.48,719.5 L257.44,691.58 L257.44,684.92 L257.44,683.8" stroke="#a8a8a8" stroke-width="1.1" opacity="0.7"/>
<path d="M130.64,735.84 L127.69,740.97 L122.87,748.17 L118.63,756.3 L114.82,766.45 L112,776.55 L109.6,787.33 L108.57,791.5" stroke="#b8b8b8" stroke-width="2.2" opacity="0.9"/>
<path d="M387.64,789.86 L385.04,797.67 L383.19,803.84 L381.89,809.12 L380.87,815.31 L380.31,821.69 L380.31,828.36 L381.06,834.71 L382.63,840.98 L385.22,846.95 L388.82,852.54 L393.77,857.83 L399.57,862.44 L406.02,866.36 L413.65,869.73 L422.21,872.42 L430.95,874.24 L440.25,875.38 L450.83,875.67 L462.72,874.38 L473.75,871.64 L483.61,867.66 L492.45,863.03 L499.75,858.15 L506.79,852.65 L512.81,846.99 L517.44,842.06 L521.61,836.8 L525.12,831.44 L528.28,825.34 L530.75,819.35 L532.86,812.84 L534.26,808.02 L535.4,802.86 L536.41,795.49 L537.63,780.71 L539.16,756.8 L540.17,724.66 L540.71,692.6 L540.76,682.18 L540.71,680.4" stroke="#c4c4c4" stroke-width="1.3" opacity="0.85"/>
<path d="M387.58,856.83 L393.05,862.18 L399.7,867.01 L406.83,870.82 L415.36,874.06 L424.8,876.54 L433.96,878.07 L444.14,879 L455.02,878.83 L467.46,876.97 L477.92,873.94 L487.94,869.75 L497.12,864.76 L504.43,859.67 L511.53,853.62 L516.93,847.99 L521.61,842.39 L525.6,836.79 L528.98,831.07 L532.08,824.52 L534.58,817.85 L536.43,811.76 L537.64,807.41 L538.94,800.67 L539.93,792.68 L541.46,773.56 L542.96,747.57 L543.85,712.26 L544.27,687.23 L544.2,681.1 L544.19,680.4" stroke="#a8a8a8" stroke-width="1.1" opacity="0.7"/>
<path d="M411.26,734.03 L404.9,744.29 L398.54,756.94 L393.03,770.45 L388.34,783.05 L385.11,792.11 L382.72,799.27 L382.08,801.34" stroke="#b8b8b8" stroke-width="2.2" opacity="0.9"/>
<path d="M697.17,772.83 L693.58,785.13 L690.59,793.88 L687.99,800.47 L685.7,805.98 L683.81,811.99 L682.58,818.67 L682.05,825.06 L682.2,831.41 L683.06,837.67 L684.81,843.6 L687.42,848.81 L691.34,854.03 L696.33,858.79 L702.7,863.39 L709.85,867.14 L717.71,870.18 L726.47,872.6 L735.95,874.49 L744.11,875.63 L752.79,875.99 L760.54,875.46 L770.57,874.08 L780.57,871.91 L788.76,869.52 L795.7,866.82 L801.59,863.71 L807.95,859.69 L814.05,855.13 L819.91,849.98 L825.72,843.38 L830.61,836.03 L834.7,827.59 L838.19,817.64 L840.81,806.33 L842.65,795.04 L843.74,784.26 L844.54,770.18 L845.18,747.64 L845.75,707.22 L845.99,683.8 L845.93,679.62 L845.92,679.1" stroke="#c4c4c4" stroke-width="1.3" opacity="0.85"/>
<path d="M684.07,849.36 L687.6,854.78 L692.57,860.25 L699.24,865.53 L707.26,869.9 L715.22,873.03 L723.91,875.59 L733.87,877.74 L743.03,879.06 L751.31,879.6 L759.83,879.44 L769.4,878.6 L779.71,876.73 L789.11,874.15 L796.61,871.34 L803,868 L809.65,863.63 L815.81,858.82 L821.62,853.61 L827.92,846.54 L832.97,839.09 L837.24,830.63 L841.14,820.34 L844.04,809.09 L846.05,797.49 L847.27,785.54 L848.13,771.89 L848.8,753.49 L849.56,714.07 L849.95,685.65 L849.89,679.76 L849.88,679.1" stroke="#a8a8a8" stroke-width="1.1" opacity="0.7"/>
<path d="M715.14,730.25 L712.87,734.42 L708.58,741.07 L703.63,751.27 L699.22,762.81 L695.39,774.28 L691.56,786.08 L689.85,790.74" stroke="#b8b8b8" stroke-width="2.2" opacity="0.9"/>
</g>
<text x="120" y="159" font-size="23" font-weight="normal" fill="#4a4a4a" textLength="127" lengthAdjust="spacing">Φ:1.7mm</text>
<text x="403" y="152" font-size="23" font-weight="normal" fill="#4a4a4a" textLength="128" lengthAdjust="spacing">Φ:1.7mm</text>
<text x="690" y="138" font-size="23" font-weight="normal" fill="#4a4a4a" textLength="127" lengthAdjust="spacing">Φ:1.9mm</text>
<text x="113" y="429" font-size="23" font-weight="normal" fill="#4a4a4a" textLength="128" lengthAdjust="spacing">Φ:2.1mm</text>
<text x="400" y="432" font-size="23" font-weight="normal" fill="#4a4a4a" textLength="129" lengthAdjust="spacing">Φ:2.1mm</text>
<text x="700" y="435" font-size="23" font-weight="normal" fill="#4a4a4a" textLength="128" lengthAdjust="spacing">Φ:2.3mm</text>
<text x="108" y="724" font-size="23" font-weight="normal" fill="#4a4a4a" textLength="129" lengthAdjust="spacing">Φ:2.5mm</text>
<text x="387" y="722" font-size="23" font-weight="normal" fill="#4a4a4a" textLength="126" lengthAdjust="spacing">Φ:2.7mm</text>
<text x="158" y="319.8" font-size="26.8" font-weight="normal" fill="#4a4a4a" textLength="107" lengthAdjust="spacing">I7.8mm</text>
<text x="441.8" y="315.2" font-size="26.8" font-weight="normal" fill="#4a4a4a" textLength="106.4" lengthAdjust="spacing">I8.9mm</text>
<text x="726" y="314" font-size="26.8" font-weight="normal" fill="#4a4a4a" textLength="111" lengthAdjust="spacing">20.3mm</text>
<text x="147.4" y="611.4" font-size="26.8" font-weight="normal" fill="#4a4a4a" textLength="110.6" lengthAdjust="spacing">23.2mm</text>
<text x="431.4" y="611.4" font-size="26.8" font-weight="normal" fill="#4a4a4a" textLength="109.2" lengthAdjust="spacing">24.3mm</text>
<text x="721" y="617.4" font-size="26.8" font-weight="normal" fill="#4a4a4a" textLength="111" lengthAdjust="spacing">26.2mm</text>
<text x="134.8" y="916.6" font-size="26.8" font-weight="normal" fill="#4a4a4a" textLength="109.2" lengthAdjust="spacing">29.7mm</text>
<text x="413" y="920.2" font-size="26.8" font-weight="normal" fill="#4a4a4a" textLength="108.8" lengthAdjust="spacing">3I.6mm</text>
<text x="724.8" y="924.4" font-size="26.5" font-weight="normal" fill="#484848" stroke="#484848" stroke-width="0.7" textLength="98" lengthAdjust="spacing">31.8mm</text>
<text transform="translate(308,228) rotate(-90)" x="0" y="0" font-size="27.5" font-weight="normal" fill="#4a4a4a" textLength="112" lengthAdjust="spacing">29.Imm</text>
<text transform="translate(595,216) rotate(-90)" x="0" y="0" font-size="27.5" font-weight="normal" fill="#4a4a4a" textLength="110" lengthAdjust="spacing">30.2mm</text>
<text transform="translate(882,206) rotate(-90)" x="0" y="0" font-size="27.5" font-weight="normal" fill="#4a4a4a" textLength="110" lengthAdjust="spacing">30.3mm</text>
<text transform="translate(314.8,509.9) rotate(-90)" x="0" y="0" font-size="27.5" font-weight="normal" fill="#4a4a4a" textLength="110.7" lengthAdjust="spacing">34.4mm</text>
<text transform="translate(591,508) rotate(-90)" x="0" y="0" font-size="27.5" font-weight="normal" fill="#4a4a4a" textLength="110" lengthAdjust="spacing">38.3mm</text>
<text transform="translate(887,507) rotate(-90)" x="0" y="0" font-size="27.5" font-weight="normal" fill="#4a4a4a" textLength="111" lengthAdjust="spacing">4I.Imm</text>
<text transform="translate(307,801) rotate(-90)" x="0" y="0" font-size="27.5" font-weight="normal" fill="#4a4a4a" textLength="110" lengthAdjust="spacing">43.2mm</text>
<text transform="translate(586,800) rotate(-90)" x="0" y="0" font-size="27.5" font-weight="normal" fill="#4a4a4a" textLength="109" lengthAdjust="spacing">47.4mm</text>
<text transform="translate(894.5,798.5) rotate(-90)" x="0" y="0" font-size="28.3" font-weight="normal" fill="#484848" stroke="#484848" stroke-width="0.7" textLength="72.5" lengthAdjust="spacingAndGlyphs">50mm</text>
<text x="179" y="241" font-size="37" font-weight="bold" fill="#d7141a" textLength="56" lengthAdjust="spacing">3/0</text>
<text x="467" y="241" font-size="37" font-weight="bold" fill="#d7141a" textLength="55" lengthAdjust="spacing">4/0</text>
<text x="748" y="240" font-size="37" font-weight="bold" fill="#d7141a" textLength="56" lengthAdjust="spacing">5/0</text>
<text x="171" y="524.6" font-size="37" font-weight="bold" fill="#d7141a" textLength="55.6" lengthAdjust="spacing">6/0</text>
<text x="452.2" y="524.6" font-size="37" font-weight="bold" fill="#d7141a" textLength="55.6" lengthAdjust="spacing">7/0</text>
<text x="748.2" y="524.6" font-size="37" font-weight="bold" fill="#d7141a" textLength="55.6" lengthAdjust="spacing">8/0</text>
<text x="145.4" y="829.4" font-size="37" font-weight="bold" fill="#d7141a" textLength="56.6" lengthAdjust="spacing">9/0</text>
<text x="420.8" y="829.6" font-size="36.5" font-weight="normal" fill="#dc101a" stroke="#dc101a" stroke-width="1.1" textLength="73.8" lengthAdjust="spacing">I0/0</text>
<text x="739.2" y="828.4" font-size="36.5" font-weight="normal" fill="#dc101a" stroke="#dc101a" stroke-width="1.1" textLength="71.6" lengthAdjust="spacing">II/0</text>
<text x="702" y="721" font-size="23" font-weight="normal" fill="#4a4a4a" textLength="30" lengthAdjust="spacing">Φ:</text>
<text x="738" y="723.4" font-size="26.5" font-weight="normal" fill="#484848" stroke="#484848" stroke-width="0.7" textLength="77.2" lengthAdjust="spacing">3.0mm</text>
<text x="103" y="978" font-size="37" font-weight="normal" fill="#dd1a1a" stroke="#dd1a1a" stroke-width="1.1" textLength="88" lengthAdjust="spacingAndGlyphs">Note:</text>
<text x="197" y="978.4" font-size="28" font-weight="normal" fill="#0a0a0a" stroke="#0a0a0a" stroke-width="0.55" textLength="720" lengthAdjust="spacing">Due to manual measurement,please allow small tolerence</text>
</svg>
</body></html>
